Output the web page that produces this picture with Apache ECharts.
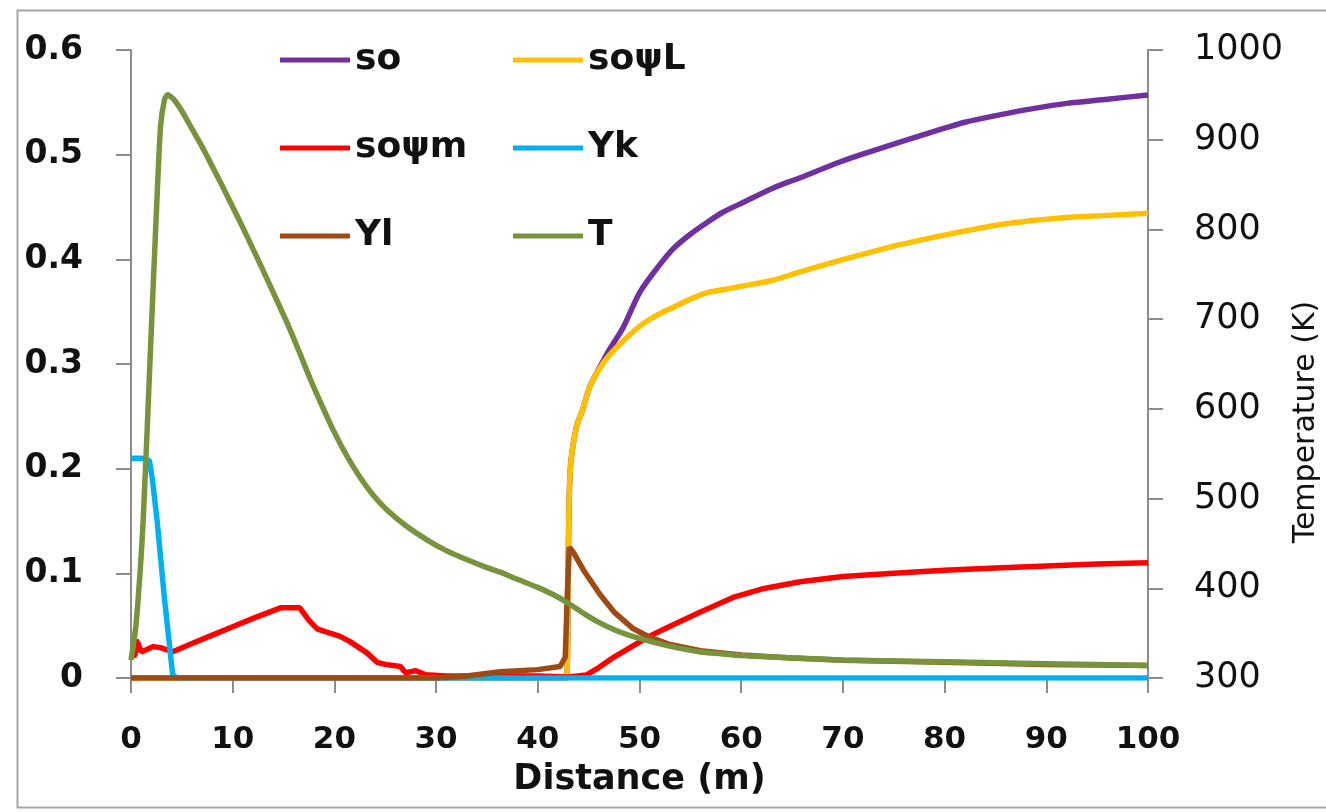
<!DOCTYPE html>
<html>
<head>
<meta charset="utf-8">
<script src="https://cdn.jsdelivr.net/npm/echarts@6/dist/echarts.min.js"></script>
<style>
html,body{margin:0;padding:0;background:#fff;}
#chart{width:1326px;height:812px;}
</style>
</head>
<body>
<div id="chart"></div>
<script>
// ---- data ----
const xTicks = [0,10,20,30,40,50,60,70,80,90,100];
const leftTicks = [0,0.1,0.2,0.3,0.4,0.5,0.6];
const rightTicks = [300,400,500,600,700,800,900,1000];

const seriesNames = ['so','soψL','soψm','Yk','Yl','T'];
const xAxisTitle = 'Distance (m)';
const rightAxisTitle = 'Temperature (K)';

const soData = [[0,0],[42.8,0],[43,0.12],[43.2,0.2],[43.8,0.24],[44.4,0.256],[45.1,0.278],[46.1,0.297],[47,0.313],[48.4,0.335],[50,0.368],[51.6,0.39],[53.3,0.41],[55,0.424],[56.6,0.435],[58.2,0.445],[59.9,0.453],[63.1,0.468],[65.8,0.478],[69.7,0.493],[72.4,0.502],[75.6,0.512],[78.9,0.522],[82,0.531],[85.4,0.538],[88.7,0.544],[92,0.549],[96,0.553],[100,0.557]];

const soPsiLData = [[0,0],[42.8,0],[43,0.12],[43.2,0.2],[43.8,0.24],[44.4,0.256],[45.1,0.278],[46.1,0.296],[47,0.308],[48.4,0.322],[50,0.336],[51.6,0.346],[53.3,0.354],[55,0.362],[56.6,0.368],[58.2,0.371],[59.9,0.374],[63.1,0.38],[65.8,0.388],[69.7,0.399],[72.4,0.406],[75.6,0.414],[78.9,0.421],[82,0.427],[85.4,0.433],[88.7,0.437],[92,0.44],[96,0.442],[100,0.444]];

const soPsiMData = [[0,0.02],[0.4,0.022],[0.5,0.036],[0.7,0.033],[1,0.025],[1.5,0.027],[2.2,0.03],[2.9,0.029],[3.5,0.027],[4.1,0.025],[6,0.033],[8,0.041],[10,0.049],[12,0.057],[14.7,0.067],[16.6,0.067],[17.5,0.055],[18.3,0.047],[19.5,0.043],[20.5,0.04],[21.5,0.035],[23.2,0.024],[24.2,0.015],[25,0.013],[26.5,0.011],[27,0.005],[28,0.007],[29,0.003],[31,0.002],[35,0.002],[40,0.002],[43,0.001],[44.8,0.003],[46,0.01],[47.5,0.02],[49.4,0.031],[51,0.04],[52.7,0.048],[56,0.063],[59.2,0.077],[62,0.085],[65.8,0.092],[70,0.097],[75,0.1],[80,0.103],[85,0.105],[90,0.107],[95,0.109],[100,0.11]];

const ykData = [[0,0.21],[1,0.21],[1.8,0.208],[2.1,0.19],[2.56,0.151],[3.3,0.075],[4.1,0.003],[4.5,0],[100,0]];

const ylData = [[0,0],[30,0],[33,0.002],[36.3,0.006],[40,0.008],[42.2,0.011],[42.7,0.02],[42.9,0.08],[43.1,0.125],[43.5,0.12],[44.5,0.103],[46.1,0.08],[47.5,0.063],[49.4,0.047],[51,0.039],[53,0.032],[56,0.026],[60,0.022],[65,0.019],[70,0.017],[80,0.015],[90,0.013],[100,0.012]];

const tData = [[0,320],[0.5,360],[1.2,476],[1.9,662],[2.5,820],[2.9,914],[3.3,945],[3.6,950],[4.2,945],[5,932],[6,912],[7,892],[8,870],[9,848],[10,825],[11,802],[12,778],[13,754],[14.3,722],[15.5,692],[16.6,662],[17.6,634],[18.8,603],[19.9,576],[21.2,548],[22.5,524],[23.8,504],[25.2,487],[27,470],[29.1,454],[31,442],[33,432],[35,423],[36.3,418],[38,410],[40,401],[41.5,393],[42.9,384],[44.5,372],[46,362],[47.7,353],[49.4,346],[52,338],[54,333],[56,329],[58,327],[60,325],[65.8,322],[70,320],[80,318],[90,316],[100,314]];

const colors = ['#7030A0','#FFC000','#FF0000','#00B0F0','#9E4A12','#77933C'];

const chart = echarts.init(document.getElementById('chart'));
const font = 'DejaVu Sans';
const axisGray = '#8c8c8c';

function lineSeries(name, data, color, yIdx, smooth){
  return {
    name: name, type: 'line', data: data, yAxisIndex: yIdx,
    showSymbol: false, symbol: 'none', smooth: smooth || false,
    lineStyle: {color: color, width: 5.5},
    itemStyle: {color: color}
  };
}

const legendCommon = {
  orient: 'vertical',
  icon: 'rect',
  itemWidth: 70,
  itemHeight: 5,
  itemGap: 52,
  textStyle: {fontFamily: font, fontWeight: 'bold', fontSize: 36, color: '#111', lineHeight: 36},
  selectedMode: false
};

chart.setOption({
  animation: false,
  backgroundColor: '#ffffff',
  color: colors,
  graphic: [{
    type: 'rect', left: 15, top: 8,
    shape: {width: 1330, height: 797},
    style: {fill: 'none', stroke: '#a6a6a6', lineWidth: 2},
    silent: true, z: -10
  },{
    type: 'text', x: 1306, y: 422, rotation: Math.PI/2,
    style: {text: rightAxisTitle, fontFamily: font, fontSize: 30, fill: '#111', align: 'center', verticalAlign: 'middle'},
    silent: true
  }],
  legend: [
    Object.assign({left: 275, top: 37, data: [seriesNames[0], seriesNames[2], seriesNames[4]]}, legendCommon),
    Object.assign({left: 508, top: 37, data: [seriesNames[1], seriesNames[3], seriesNames[5]]}, legendCommon)
  ],
  grid: {left: 131, right: 178, top: 50, bottom: 134, containLabel: false, outerBoundsMode: 'none'},
  xAxis: {
    type: 'value', min: xTicks[0], max: xTicks[xTicks.length-1], interval: 10,
    name: xAxisTitle, nameLocation: 'middle', nameGap: 84,
    nameTextStyle: {fontFamily: font, fontWeight: 'bold', fontSize: 35, color: '#111'},
    axisLine: {show: true, onZero: false, lineStyle: {color: axisGray, width: 2}},
    axisTick: {show: true, inside: false, length: 15, lineStyle: {color: axisGray, width: 2}},
    axisLabel: {fontFamily: font, fontWeight: 'bold', fontSize: 31, color: '#111', margin: 46},
    splitLine: {show: false}
  },
  yAxis: [{
    type: 'value', min: leftTicks[0], max: leftTicks[leftTicks.length-1], interval: 0.1, position: 'left',
    axisLine: {show: true, lineStyle: {color: axisGray, width: 2}},
    axisTick: {show: true, inside: false, length: 15, lineStyle: {color: axisGray, width: 2}},
    axisLabel: {fontFamily: font, fontWeight: 'bold', fontSize: 33, color: '#111', margin: 48,
      formatter: function(v){ return v === 0 ? '0' : String(Math.round(v*10)/10); }},
    splitLine: {show: false}
  },{
    type: 'value', min: rightTicks[0], max: rightTicks[rightTicks.length-1], interval: 100, position: 'right',
    axisLine: {show: true, lineStyle: {color: axisGray, width: 2}},
    axisTick: {show: true, inside: false, length: 15, lineStyle: {color: axisGray, width: 2}},
    axisLabel: {fontFamily: font, fontSize: 35, color: '#111', margin: 46,
      formatter: function(v){ return String(Math.round(v)); }},
    splitLine: {show: false}
  }],
  series: [
    lineSeries(seriesNames[0], soData, colors[0], 0, 0.3),
    lineSeries(seriesNames[1], soPsiLData, colors[1], 0, 0.3),
    lineSeries(seriesNames[2], soPsiMData, colors[2], 0),
    lineSeries(seriesNames[3], ykData, colors[3], 0),
    lineSeries(seriesNames[4], ylData, colors[4], 0),
    lineSeries(seriesNames[5], tData, colors[5], 1, 0.2)
  ]
});
</script>
</body>
</html>
